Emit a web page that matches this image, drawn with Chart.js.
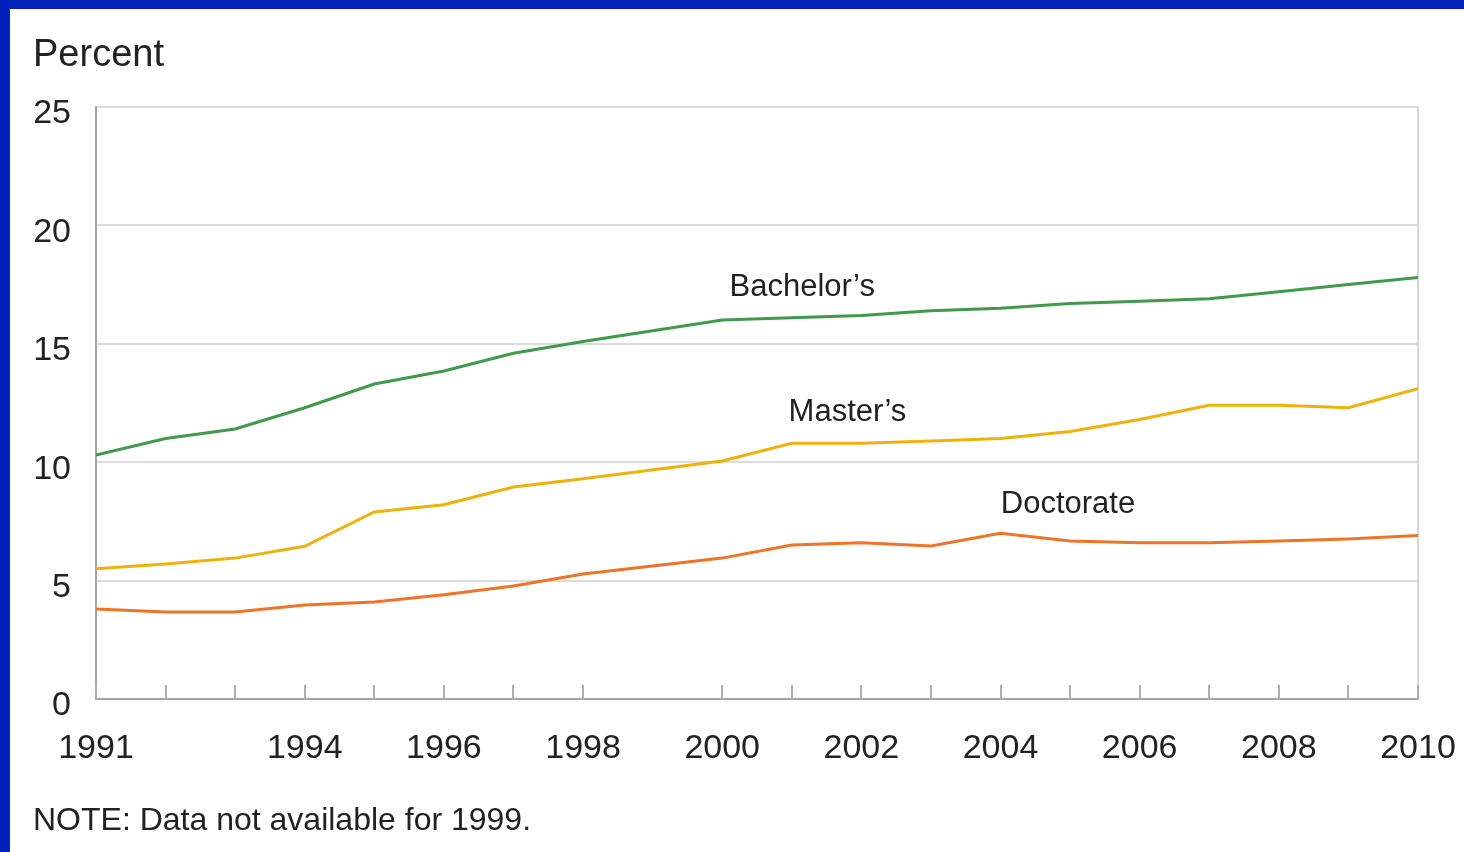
<!DOCTYPE html>
<html>
<head>
<meta charset="utf-8">
<title>Degrees by level, 1991-2010</title>
<script src="https://cdn.jsdelivr.net/npm/chart.js@4"></script>
<style>
  body {
    margin: 0;
    background: #0022bb;
    font-family: "Liberation Sans", Arial, sans-serif;
    color: #222;
  }
  #wrap {
    position: absolute;
    left: 10px;
    top: 9px;
    width: 1454px;
    height: 843px;
    background: #fff;
  }
  #plot {
    position: absolute;
    left: 0;
    top: 0;
    width: 1454px;
    height: 843px;
  }
  #unit {
    position: absolute;
    left: 23px;
    top: 25px;
    font-size: 38px;
    line-height: 38px;
  }
  #note {
    position: absolute;
    left: 23px;
    top: 794px;
    font-size: 32px;
    line-height: 32px;
  }
</style>
</head>
<body>
<div id="wrap">
  <div id="plot"><canvas id="lineChart"></canvas></div>
  <div id="unit">Percent</div>
  <div id="note">NOTE: Data not available for 1999.</div>
</div>
<script>
// Years with data (no figures for 1999)
const years = [1991, 1992, 1993, 1994, 1995, 1996, 1997, 1998, 2000, 2001,
  2002, 2003, 2004, 2005, 2006, 2007, 2008, 2009, 2010];
const xLabelYears = [1991, 1994, 1996, 1998, 2000, 2002, 2004, 2006, 2008, 2010];
const yTicks = [0, 5, 10, 15, 20, 25];

const bachelors = [10.3, 11.0, 11.4, 12.3, 13.3, 13.85, 14.6, 15.1, 16.0, 16.1,
  16.2, 16.4, 16.5, 16.7, 16.8, 16.9, 17.2, 17.5, 17.8];
const masters = [5.5, 5.7, 5.95, 6.45, 7.9, 8.2, 8.95, 9.3, 10.05, 10.8,
  10.8, 10.9, 11.0, 11.3, 11.8, 12.4, 12.4, 12.3, 13.1];
const doctorate = [3.8, 3.67, 3.67, 3.97, 4.1, 4.4, 4.77, 5.28, 5.95, 6.5,
  6.6, 6.46, 7.0, 6.67, 6.6, 6.6, 6.67, 6.76, 6.9];

// Where each series name sits, in data units
const seriesLabels = [
  { text: "Bachelor\u2019s", year: 2001.15, value: 17.4 },
  { text: "Master\u2019s", year: 2001.8, value: 12.1 },
  { text: "Doctorate", year: 2004.97, value: 8.2 },
];

const toPoints = (vals) => vals.map((v, i) => ({ x: years[i], y: v }));

const lineStyle = (color) => ({
  borderColor: color,
  borderWidth: 3,
  pointRadius: 0,
  tension: 0,
  fill: false,
});

// Short tick marks rising from the x axis into the plot
const innerTicks = {
  id: "innerTicks",
  afterDraw(chart) {
    const { ctx, chartArea } = chart;
    const xScale = chart.scales.x;
    ctx.save();
    ctx.strokeStyle = "#adadad";
    ctx.lineWidth = 2;
    xScale.ticks.forEach((t) => {
      const px = Math.round(xScale.getPixelForValue(t.value));
      ctx.beginPath();
      ctx.moveTo(px, chartArea.bottom);
      ctx.lineTo(px, chartArea.bottom - 14);
      ctx.stroke();
    });
    ctx.restore();
  },
};

// Series names written next to their lines
const lineNames = {
  id: "lineNames",
  afterDatasetsDraw(chart) {
    const { ctx } = chart;
    const xScale = chart.scales.x;
    const yScale = chart.scales.y;
    ctx.save();
    ctx.font = '31px "Liberation Sans", Arial, sans-serif';
    ctx.fillStyle = "#222";
    ctx.textAlign = "center";
    ctx.textBaseline = "middle";
    seriesLabels.forEach((lab) => {
      ctx.fillText(lab.text, xScale.getPixelForValue(lab.year), yScale.getPixelForValue(lab.value));
    });
    ctx.restore();
  },
};

const tickFont = { family: '"Liberation Sans", Arial, sans-serif', size: 34 };

new Chart(document.getElementById("lineChart"), {
  type: "line",
  data: {
    datasets: [
      { label: "Bachelor\u2019s", data: toPoints(bachelors), ...lineStyle("#3f9a4b") },
      { label: "Master\u2019s", data: toPoints(masters), ...lineStyle("#efb20c") },
      { label: "Doctorate", data: toPoints(doctorate), ...lineStyle("#ee7428") },
    ],
  },
  options: {
    responsive: true,
    maintainAspectRatio: false,
    animation: false,
    layout: { padding: { top: 98, right: 46, bottom: 0, left: 0 } },
    plugins: {
      legend: { display: false },
      tooltip: { enabled: false },
    },
    scales: {
      x: {
        type: "linear",
        min: 1991,
        max: 2010,
        afterBuildTicks: (axis) => {
          axis.ticks = axis.ticks.filter((t) => years.includes(t.value));
        },
        afterFit: (scale) => {
          scale.height = 153;
          scale.paddingLeft = 0;
          scale.paddingRight = 0;
        },
        ticks: {
          stepSize: 1,
          autoSkip: false,
          maxRotation: 0,
          minRotation: 0,
          padding: 29,
          color: "#222",
          font: tickFont,
          callback: (value) => (xLabelYears.includes(value) ? String(value) : ""),
        },
        grid: {
          drawTicks: false,
          lineWidth: 2,
          color: (ctx) => (ctx.tick && ctx.tick.value === 2010 ? "#d6d6d6" : "rgba(0,0,0,0)"),
        },
        border: { display: true, color: "#a6a6a6", width: 2 },
      },
      y: {
        min: 0,
        max: 25,
        afterBuildTicks: (axis) => {
          axis.ticks = yTicks.map((v) => ({ value: v }));
        },
        afterFit: (scale) => {
          scale.width = 86;
          scale.paddingTop = 0;
          scale.paddingBottom = 0;
        },
        ticks: {
          padding: 25,
          labelOffset: 7,
          color: "#222",
          font: tickFont,
        },
        grid: {
          drawTicks: false,
          lineWidth: 2,
          color: "#dcdcdc",
        },
        border: { display: true, color: "#a6a6a6", width: 2 },
      },
    },
  },
  plugins: [innerTicks, lineNames],
});
</script>
</body>
</html>
